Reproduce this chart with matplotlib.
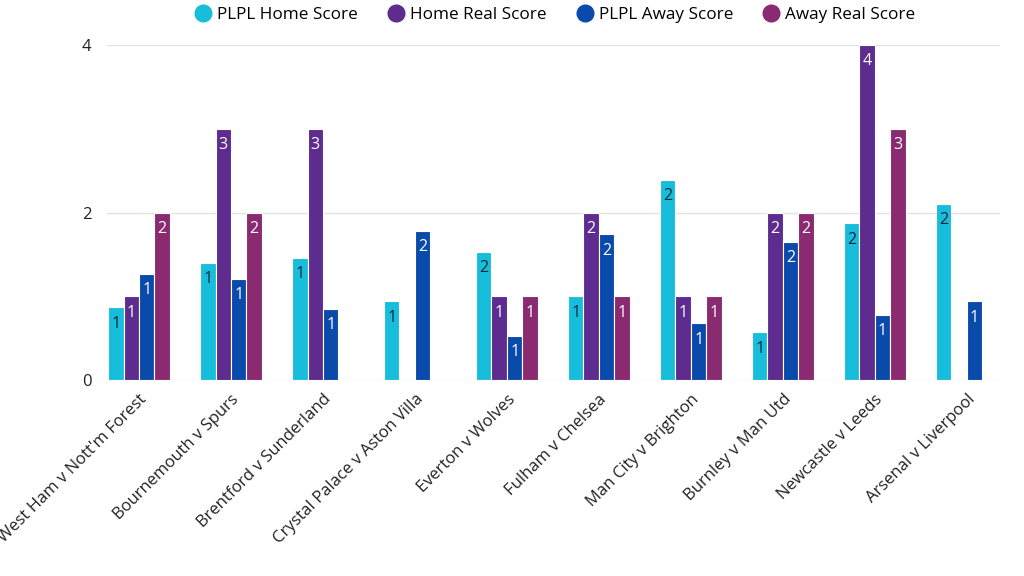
import matplotlib
matplotlib.use("Agg")
import matplotlib.pyplot as plt
from matplotlib.lines import Line2D
import numpy as np

matches = ["West Ham v Nott'm Forest", "Bournemouth v Spurs", "Brentford v Sunderland",
           "Crystal Palace v Aston Villa", "Everton v Wolves", "Fulham v Chelsea",
           "Man City v Brighton", "Burnley v Man Utd", "Newcastle v Leeds", "Arsenal v Liverpool"]
plpl_home = [0.87, 1.40, 1.46, 0.94, 1.53, 1.00, 2.39, 0.57, 1.87, 2.10]
home_real = [1, 3, 3, 0, 1, 2, 1, 2, 4, 0]
plpl_away = [1.27, 1.21, 0.85, 1.78, 0.53, 1.74, 0.68, 1.65, 0.78, 0.94]
away_real = [2, 2, 0, 0, 1, 1, 1, 2, 3, 0]

series = [("PLPL Home Score", plpl_home, "#17BEDB", "#16263a"),
          ("Home Real Score", home_real, "#5E2B8E", "white"),
          ("PLPL Away Score", plpl_away, "#0A4AAB", "white"),
          ("Away Real Score", away_real, "#8A2A70", "white")]

fig = plt.figure(figsize=(10.24, 5.76), dpi=100)
ax = fig.add_axes([0.1045, 0.340, 0.872, 0.582])

x = np.arange(len(matches))
w = 0.168
for i, (name, vals, col, tcol) in enumerate(series):
    pos = x + (i - 1.5) * w
    ax.bar(pos, vals, width=w, color=col, edgecolor="white", linewidth=0.8, zorder=3)
    for p, v in zip(pos, vals):
        if v > 0:
            ax.annotate(f"{int(np.floor(v + 0.5))}",
                        (p, v), xytext=(0, -6), textcoords="offset points",
                        ha="center", va="top", color=tcol, fontsize=11.5,
                        family="Open Sans", zorder=4)

ax.set_xlim(-0.348, 9.36)
ax.set_ylim(0, 4)
ax.set_yticks([0, 2, 4])
ax.set_yticklabels(["0", "2", "4"], family="Open Sans", fontsize=12, color="#222222")
ax.grid(axis="y", color="#e3e3e3", linewidth=1, zorder=0)
ax.set_axisbelow(True)
for s in ax.spines.values():
    s.set_visible(False)
ax.tick_params(axis="both", length=0)
ax.tick_params(axis="y", pad=11)
ax.set_xticks(x)
ax.set_xticklabels(matches, rotation=45, ha="right", rotation_mode="anchor",
                   family="Open Sans", fontsize=12, color="#222222")
ax.tick_params(axis="x", pad=8)

handles = [Line2D([0], [0], marker="o", linestyle="none", markersize=12,
                  markerfacecolor=c, markeredgecolor=c) for _, _, c, _ in series]
fig.legend(handles, [s[0] for s in series], loc="upper center", ncol=4,
           bbox_to_anchor=(0.542, 1.015), frameon=False, handlelength=1.0,
           handletextpad=0.3, columnspacing=1.75, prop={"family": "Open Sans", "size": 12.3})

fig.savefig("out.png", dpi=100, facecolor="white")
